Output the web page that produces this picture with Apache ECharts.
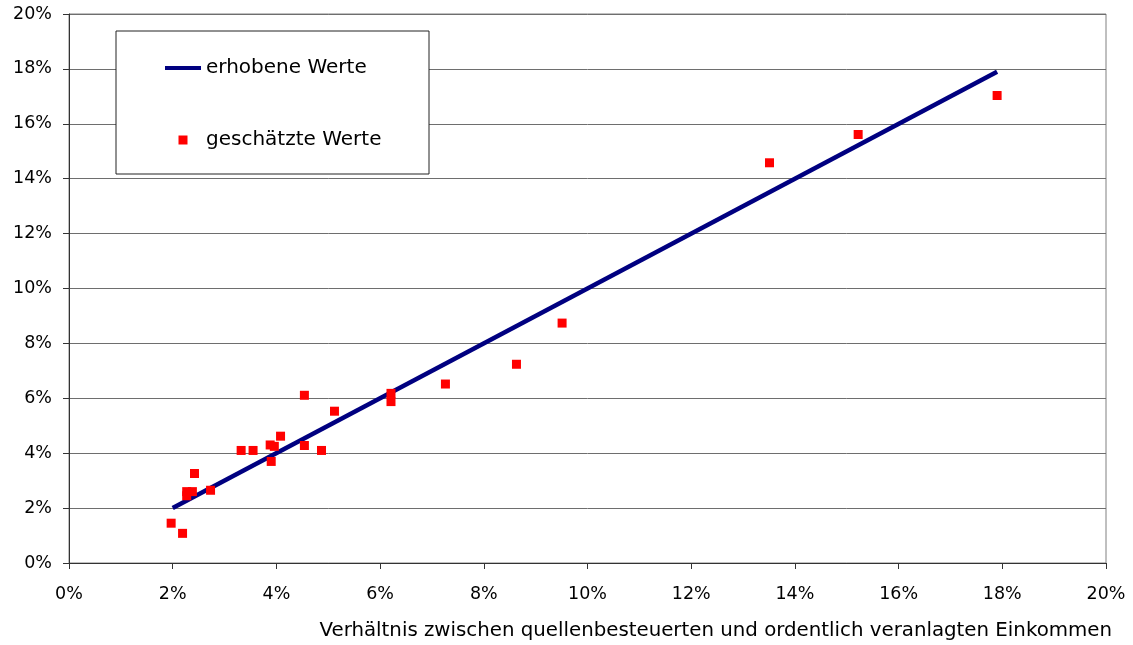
<!DOCTYPE html>
<html>
<head>
<meta charset="utf-8">
<script src="https://cdn.jsdelivr.net/npm/echarts@6/dist/echarts.min.js"></script>
<style>
html,body{margin:0;padding:0;background:#fff;}
#chart{width:1133px;height:645px;}
</style>
</head>
<body>
<div id="chart"></div>
<script>
// Data (percent)
var observedX = [2.0, 17.9];
var observedY = [2.0, 17.9];
var estimatedX = [1.97, 2.19, 2.27, 2.38, 2.27, 2.42, 2.73, 3.32, 3.55, 3.88, 3.96, 3.90, 4.08, 4.54, 4.54, 4.87, 5.12, 6.21, 6.21, 7.26, 8.63, 9.51, 13.51, 15.22, 17.90];
var estimatedY = [1.45, 1.08, 2.60, 2.60, 2.45, 3.26, 2.65, 4.10, 4.10, 4.30, 4.25, 3.70, 4.62, 6.11, 4.28, 4.10, 5.53, 6.18, 5.88, 6.52, 7.24, 8.74, 14.58, 15.61, 17.03];
var tickValues = [0, 2, 4, 6, 8, 10, 12, 14, 16, 18, 20];
var xAxisTitle = 'Verhältnis zwischen quellenbesteuerten und ordentlich veranlagten Einkommen';
var seriesNames = ['erhobene Werte', 'geschätzte Werte'];

var lineData = observedX.map(function (x, i) { return [x, observedY[i]]; });
var scatterData = estimatedX.map(function (x, i) { return [x, estimatedY[i]]; });

var FONT = '"DejaVu Sans", sans-serif';
var chart = echarts.init(document.getElementById('chart'), null, {renderer: 'canvas'});
chart.setOption({
  backgroundColor: '#fff',
  animation: false,
  textStyle: {fontFamily: FONT},
  grid: {left: 69, right: 27, top: 14, bottom: 82, show: true, borderColor: '#808080', borderWidth: 1, containLabel: false},
  graphic: [{
    type: 'rect',
    shape: {x: 116, y: 31, width: 313, height: 143},
    style: {fill: '#fff', stroke: '#222', lineWidth: 1},
    z: 50
  }],
  legend: {
    orient: 'vertical',
    left: 160,
    top: 53,
    itemWidth: 36,
    itemHeight: 9,
    itemGap: 52,
    symbolKeepAspect: true,
    z: 60,
    textStyle: {fontFamily: FONT, fontSize: 20, color: '#000'},
    data: [
      {name: seriesNames[0], icon: 'path://M0,0h36v4h-36z'},
      {name: seriesNames[1], icon: 'path://M0,0h10v10h-10z'}
    ]
  },
  xAxis: {
    type: 'value',
    min: 0, max: 20, interval: 2,
    name: xAxisTitle,
    nameLocation: 'end',
    nameGap: 6,
    nameTextStyle: {fontFamily: FONT, fontSize: 19.8, color: '#000', align: 'right', verticalAlign: 'top', padding: [58, 0, 0, 0]},
    axisLine: {show: true, lineStyle: {color: '#333', width: 1}},
    axisTick: {show: true, length: 6, lineStyle: {color: '#333'}},
    axisLabel: {margin: 22, fontSize: 17.5, color: '#000', fontFamily: FONT, formatter: '{value}%'},
    splitLine: {show: false}
  },
  yAxis: {
    type: 'value',
    min: 0, max: 20, interval: 2,
    axisLine: {show: true, lineStyle: {color: '#333', width: 1}},
    axisTick: {show: true, length: 6, lineStyle: {color: '#333'}},
    axisLabel: {margin: 17, fontSize: 17.5, color: '#000', fontFamily: FONT, formatter: '{value}%'},
    splitLine: {show: true, lineStyle: {color: '#6e6e6e', width: 1}}
  },
  series: [{
    name: seriesNames[0],
    type: 'line',
    data: lineData,
    showSymbol: false,
    symbol: 'none',
    lineStyle: {color: '#000080', width: 4.5},
    itemStyle: {color: '#000080'},
    z: 3
  }, {
    name: seriesNames[1],
    type: 'scatter',
    data: scatterData,
    symbol: 'rect',
    symbolSize: 9,
    itemStyle: {color: '#ff0000', opacity: 1},
    z: 4
  }]
});
</script>
</body>
</html>
